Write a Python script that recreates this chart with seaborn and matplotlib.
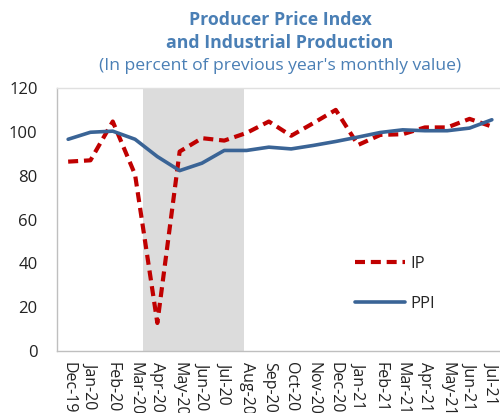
import matplotlib
matplotlib.use('Agg')
import matplotlib.pyplot as plt
from matplotlib.lines import Line2D
import seaborn as sns
import pandas as pd

months = ['Dec-19', 'Jan-20', 'Feb-20', 'Mar-20', 'Apr-20', 'May-20', 'Jun-20',
          'Jul-20', 'Aug-20', 'Sep-20', 'Oct-20', 'Nov-20', 'Dec-20', 'Jan-21',
          'Feb-21', 'Mar-21', 'Apr-21', 'May-21', 'Jun-21', 'Jul-21']
ip = [86.4, 87.0, 104.7, 80.5, 12.8, 91.0, 97.1, 96.0, 99.5, 104.7,
      98.2, 104.0, 110.0, 94.0, 98.6, 98.9, 102.0, 102.0, 105.9, 102.4]
ppi = [96.6, 99.8, 100.3, 96.6, 88.7, 82.3, 85.7, 91.5, 91.5, 93.0,
       92.2, 93.8, 95.6, 97.6, 99.7, 100.9, 100.5, 100.5, 101.7, 105.5]

df = pd.DataFrame({'month': months, 'IP': ip, 'PPI': ppi})
long_df = df.melt(id_vars='month', var_name='series', value_name='value')

sns.set_style('white')
plt.rcParams['font.family'] = ['Open Sans', 'DejaVu Sans']

title_color = '#4a7fb5'
grey = '#bfbfbf'

fig = plt.figure(figsize=(5, 4.13), dpi=100)
ax = fig.add_axes([0.114, 0.150, 0.892, 0.637])

# shaded lockdown period
ax.axvspan(3.37, 7.9, color='#dcdcdc', lw=0, zorder=0)

sns.lineplot(data=long_df, x='month', y='value', hue='series', style='series',
             palette={'IP': '#c00000', 'PPI': '#3a6496'},
             dashes={'IP': (2.4, 1.4), 'PPI': ''},
             sort=False, ax=ax, legend=False)
for line in ax.lines:
    if line.get_linestyle() == '-':
        line.set_linewidth(2.6)
    else:
        line.set_linewidth(3.0)

ax.set_xlim(-0.5, len(months) - 0.5)
ax.set_ylim(0, 120)
ax.set_yticks(range(0, 121, 20))
ax.set_xticks(range(len(months)))
ax.set_xticklabels(months, rotation=-90, fontsize=11.5, color='#222222')
ax.tick_params(axis='x', which='major', length=0, pad=8)
ax.set_xticks([i - 0.5 for i in range(len(months) + 1)], minor=True)
ax.tick_params(axis='x', which='minor', direction='in', length=4, color=grey)
ax.tick_params(axis='y', length=0, labelsize=12, labelcolor='#222222', pad=14)
ax.set_xlabel('')
ax.set_ylabel('')
for s in ax.spines.values():
    s.set_color(grey)
    s.set_linewidth(1.0)
ax.spines['right'].set_visible(False)
ax.spines['top'].set_color('#e0e0e0')

handles = [Line2D([], [], color='#c00000', lw=3, dashes=(2.4, 1.4)),
           Line2D([], [], color='#3a6496', lw=2.6)]
ax.legend(handles, ['IP', 'PPI'], loc='center left', bbox_to_anchor=(0.635, 0.255),
          frameon=False, fontsize=12, handlelength=3.0, labelspacing=1.4,
          handletextpad=0.3)

fig.text(0.56, 0.951, 'Producer Price Index', ha='center', va='center',
         fontsize=12.8, fontweight='bold', color=title_color)
fig.text(0.56, 0.895, 'and Industrial Production', ha='center', va='center',
         fontsize=12.8, fontweight='bold', color=title_color)
fig.text(0.56, 0.840, "(In percent of previous year's monthly value)", ha='center',
         va='center', fontsize=12.6, color=title_color)

fig.savefig('out.png', dpi=100)
